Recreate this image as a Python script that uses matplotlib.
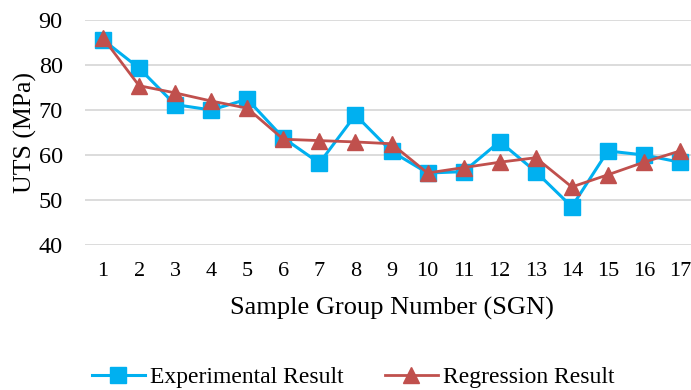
import matplotlib.pyplot as plt

sgn = list(range(1, 18))
experimental = [85.6, 79.3, 71.2, 70.0, 72.4, 63.8, 58.2, 68.9, 60.8,
                56.0, 56.3, 63.0, 56.3, 48.5, 60.9, 60.0, 58.4]
regression = [86.0, 75.4, 73.8, 72.0, 70.4, 63.5, 63.2, 62.9, 62.5,
              56.0, 57.2, 58.4, 59.4, 52.9, 55.6, 58.4, 60.9]

plt.rcParams['font.family'] = ['Liberation Serif', 'DejaVu Serif']

fig = plt.figure(figsize=(6.91, 3.90), dpi=100)
ax = fig.add_axes([85 / 691, 1 - 245 / 390, 613 / 691, 225 / 390])

ax.plot(sgn, experimental, color='#00B0F0', lw=2.2, marker='s', ms=11,
        label='Experimental Result', zorder=3)
ax.plot(sgn, regression, color='#C0504D', lw=2.0, marker='^', ms=11,
        label='Regression Result', zorder=4)

ax.set_xlim(0.5, 17.5)
ax.set_ylim(40, 90)
ax.set_yticks(range(40, 91, 10))
ax.set_xticks(sgn)
ax.grid(axis='y', color='#D9D9D9', lw=1.3)
ax.set_axisbelow(True)
for s in ax.spines.values():
    s.set_visible(False)
ax.tick_params(axis='x', length=0, labelsize=16, pad=12)
ax.tick_params(axis='y', length=0, labelsize=17.5, pad=16)

ax.set_ylabel('UTS (MPa)', fontsize=18.5, labelpad=1)
ax.set_xlabel('Sample Group Number (SGN)', fontsize=19, labelpad=12)

fig.legend(loc='center', bbox_to_anchor=(353 / 691, 1 - 377 / 390), ncol=2,
           frameon=False, fontsize=17, handlelength=2.25, columnspacing=1.75,
           handletextpad=0.2, borderpad=0)

fig.savefig('out.png', dpi=100)
